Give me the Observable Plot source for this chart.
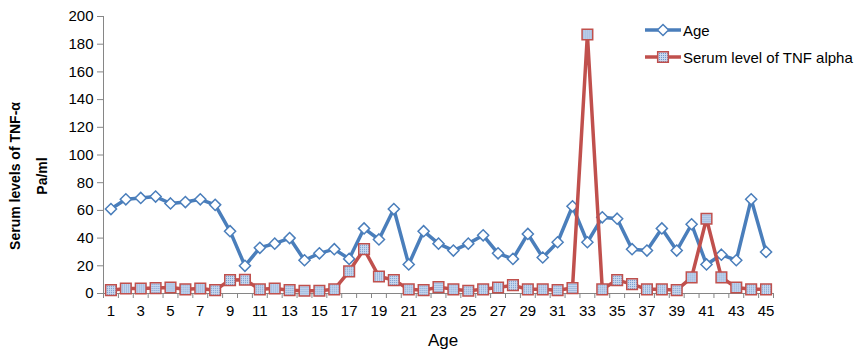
<!DOCTYPE html>
<html><head><meta charset="utf-8">
<script src="https://cdn.jsdelivr.net/npm/d3@7"></script>
<script src="https://cdn.jsdelivr.net/npm/@observablehq/plot@0.6"></script>
<style>
body{margin:0;background:#fff;font-family:"Liberation Sans",Arial,sans-serif;}
#wrap{position:relative;width:856px;height:357px;}
</style></head><body><div id="wrap"></div>
<script>
const categories = [1,2,3,4,5,6,7,8,9,10,11,12,13,14,15,16,17,18,19,20,21,22,23,24,25,26,27,28,29,30,31,32,33,34,35,36,37,38,39,40,41,42,43,44,45];
const age = [61,68,69,70,65,66,68,64,45,20,33,36,40,24,29,32,25,47,39,61,21,45,36,31,36,42,29,25,43,26,37,63,37,55,54,32,31,47,31,50,21,28,24,68,30];
const tnf = [2.4,3.6,3.6,3.9,4.3,3,3.6,2.4,9.7,9.9,3,3.6,2.4,2,2,3,16,32,12.3,9.7,3,2.4,4.6,3,2,3,4.3,6,3,3,2.4,3.9,187,3,9.7,6.8,3,3,2.4,11.6,54,11.6,4.3,3,3];
const xTickLabels = [1,3,5,7,9,11,13,15,17,19,21,23,25,27,29,31,33,35,37,39,41,43,45];
const yTicks = [0,20,40,60,80,100,120,140,160,180,200];
const seriesNames = ["Age","Serum level of TNF alpha"];
const yTitle = ["Serum levels of TNF-\u03b1","Pa/ml"];
const xTitle = "Age";

const blue = "#4a7ebb", red = "#c0504d", axisGray = "#868686";
const data = categories.map((c,i)=>({patient:c, age:age[i], tnf:tnf[i]}));
const boundaries = categories.map(c=>c-0.5).concat([categories[categories.length-1]+0.5]);

const plot = Plot.plot({
  width:856, height:357, marginLeft:103, marginRight:83, marginTop:16, marginBottom:64,
  style:{fontFamily:"'Liberation Sans', Arial, sans-serif", fontSize:"15px", color:"#000", background:"#fff"},
  x:{domain:[0.5,45.5]},
  y:{domain:[0,200]},
  marks:[
    Plot.axisY(yTicks,{tickSize:6, tickPadding:4, stroke:axisGray, fontSize:15, label:null}),
    Plot.axisX(xTickLabels,{tickSize:0, tickPadding:12, fontSize:15, label:null}),
    Plot.axisX(boundaries,{tickSize:5, stroke:axisGray, tickFormat:()=>"", label:null}),
    Plot.ruleY([0],{stroke:axisGray}),
    Plot.ruleX([0.5],{stroke:axisGray}),
    Plot.line(data,{x:"patient",y:"age",stroke:blue,strokeWidth:3.5}),
    Plot.dot(data,{x:"patient",y:"age",symbol:"diamond2",r:5,fill:"white",stroke:blue,strokeWidth:1.5}),
    Plot.line(data,{x:"patient",y:"tnf",stroke:red,strokeWidth:3.5}),
    Plot.dot(data,{x:"patient",y:"tnf",symbol:"square",r:6,fill:"url(#tnfpat)",stroke:red,strokeWidth:1.5})
  ]
});
document.getElementById("wrap").appendChild(plot);

const svg = d3.select(plot);
const defs = svg.insert("defs",":first-child");
const pat = defs.append("pattern").attr("id","tnfpat").attr("width",2).attr("height",2).attr("patternUnits","userSpaceOnUse");
pat.append("rect").attr("width",2).attr("height",2).attr("fill","#c9d9ef");
pat.append("rect").attr("width",1).attr("height",1).attr("fill","#7096cc");

// axis titles
const ff = "'Liberation Sans', Arial, sans-serif";
svg.append("text").attr("transform","translate(15,176) rotate(-90)").attr("text-anchor","middle")
  .attr("dominant-baseline","central").attr("font-family",ff).attr("font-weight","bold").attr("font-size",14).text(yTitle[0]);
svg.append("text").attr("transform","translate(42,176) rotate(-90)").attr("text-anchor","middle")
  .attr("dominant-baseline","central").attr("font-family",ff).attr("font-weight","bold").attr("font-size",14).text(yTitle[1]);
svg.append("text").attr("x",443).attr("y",346).attr("text-anchor","middle")
  .attr("font-family",ff).attr("font-size",17).text(xTitle);

// legend
const leg = [{name:seriesNames[0], color:blue, sym:d3.symbolDiamond2, size:Math.PI*25, fill:"white", y:30},
             {name:seriesNames[1], color:red, sym:d3.symbolSquare, size:Math.PI*36, fill:"url(#tnfpat)", y:57}];
const lg = svg.append("g");
leg.forEach(d=>{
  const g = lg.append("g").attr("transform",`translate(0,${d.y})`);
  g.append("line").attr("x1",645).attr("x2",681).attr("stroke",d.color).attr("stroke-width",3.5);
  g.append("path").attr("transform","translate(663,0)").attr("d",d3.symbol(d.sym,d.size)()).attr("fill",d.fill).attr("stroke",d.color).attr("stroke-width",1.5);
  g.append("text").attr("x",683).attr("text-anchor","start").attr("dominant-baseline","central").attr("font-family",ff).attr("font-size",15).text(d.name);
});
</script></body></html>
